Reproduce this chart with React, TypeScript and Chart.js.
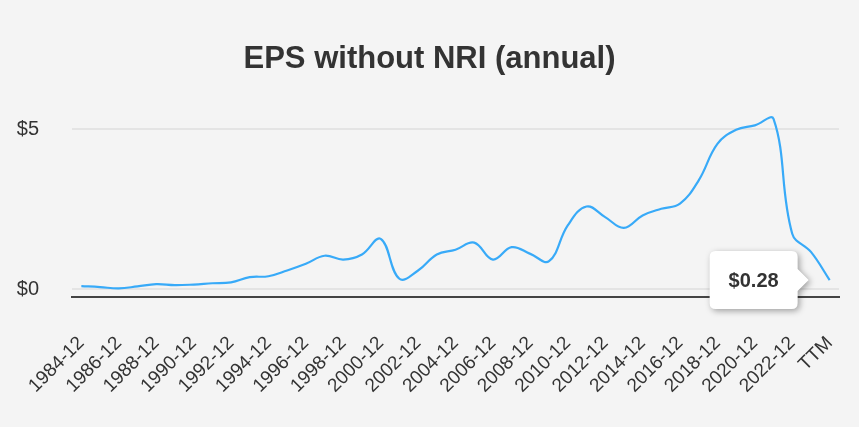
import React, { useEffect, useRef } from "react";
import { Chart, registerables } from "chart.js";

Chart.register(...registerables);

const categories: string[] = [
  "1984-12", "1985-12", "1986-12", "1987-12", "1988-12", "1989-12", "1990-12", "1991-12",
  "1992-12", "1993-12", "1994-12", "1995-12", "1996-12", "1997-12", "1998-12", "1999-12",
  "2000-12", "2001-12", "2002-12", "2003-12", "2004-12", "2005-12", "2006-12", "2007-12",
  "2008-12", "2009-12", "2010-12", "2011-12", "2012-12", "2013-12", "2014-12", "2015-12",
  "2016-12", "2017-12", "2018-12", "2019-12", "2020-12", "2021-12", "2022-12", "2023-12",
  "TTM",
];

const epsValues: number[] = [
  0.09, 0.06, 0.02, 0.08, 0.15, 0.12, 0.14, 0.18,
  0.21, 0.37, 0.4, 0.58, 0.79, 1.04, 0.92, 1.08,
  1.57, 0.32, 0.58, 1.08, 1.23, 1.45, 0.92, 1.31,
  1.1, 0.87, 1.99, 2.58, 2.25, 1.91, 2.3, 2.51,
  2.67, 3.4, 4.54, 4.98, 5.12, 5.32, 1.73, 1.16,
  0.28,
];

const yTickValues: number[] = [0, 5];
const lastValueLabel = "$0.28";
const titleText = "EPS without NRI (annual)";

const FONT = "'Liberation Sans', Arial, Helvetica, sans-serif";

const calloutPlugin = {
  id: "callout",
  afterDatasetsDraw(chart: any) {
    const meta = chart.getDatasetMeta(0);
    const pt = meta.data[meta.data.length - 1];
    if (!pt) return;
    const ctx = chart.ctx as CanvasRenderingContext2D;
    const w = 88, h = 58, gap = 32, arrow = 11, r = 6;
    const right = pt.x - gap;
    const left = right - w;
    const top = pt.y - h / 2;
    const bottom = top + h;
    ctx.save();
    ctx.shadowColor = "rgba(0,0,0,0.35)";
    ctx.shadowBlur = 6;
    ctx.shadowOffsetX = 2;
    ctx.shadowOffsetY = 2;
    ctx.fillStyle = "#ffffff";
    ctx.beginPath();
    ctx.moveTo(left + r, top);
    ctx.lineTo(right - r, top);
    ctx.quadraticCurveTo(right, top, right, top + r);
    ctx.lineTo(right, pt.y - arrow);
    ctx.lineTo(right + arrow, pt.y);
    ctx.lineTo(right, pt.y + arrow);
    ctx.lineTo(right, bottom - r);
    ctx.quadraticCurveTo(right, bottom, right - r, bottom);
    ctx.lineTo(left + r, bottom);
    ctx.quadraticCurveTo(left, bottom, left, bottom - r);
    ctx.lineTo(left, top + r);
    ctx.quadraticCurveTo(left, top, left + r, top);
    ctx.closePath();
    ctx.fill();
    ctx.restore();
    ctx.save();
    ctx.fillStyle = "#333333";
    ctx.font = `bold 20px ${FONT}`;
    ctx.textAlign = "center";
    ctx.textBaseline = "middle";
    ctx.fillText(lastValueLabel, (left + right) / 2, pt.y + 1);
    ctx.restore();
  },
};

export default function App() {
  const ref = useRef<HTMLCanvasElement>(null);
  useEffect(() => {
    document.body.style.margin = "0";
    document.body.style.background = "#f4f4f4";
    const lastIdx = categories.length - 1;
    const chart = new Chart(ref.current!, {
      type: "line",
      data: {
        labels: categories,
        datasets: [
          {
            data: epsValues,
            borderColor: "#38aaf8",
            borderWidth: 2.2,
            pointRadius: 0,
            tension: 0.4,
            fill: false,
          },
        ],
      },
      options: {
        responsive: false,
        animation: false,
        layout: { padding: { left: 0, right: 0, top: 0, bottom: 0 } },
        plugins: {
          legend: { display: false },
          tooltip: { enabled: false },
          title: {
            display: true,
            text: titleText,
            color: "#333333",
            font: { family: FONT, size: 31, weight: "bold", lineHeight: 1.2 },
            padding: { top: 41, bottom: 35 },
          },
        },
        scales: {
          x: {
            offset: true,
            grid: { display: false, drawTicks: false },
            border: { display: true, color: "#444444", width: 2 },
            afterFit: (scale: any) => {
              scale.height = 130;
              scale.paddingLeft = 0;
              scale.paddingRight = 20;
            },
            ticks: {
              autoSkip: false,
              maxRotation: 45,
              minRotation: 45,
              padding: 35,
              color: "#333333",
              font: { family: FONT, size: 19 },
              callback: (_v: any, idx: number) =>
                idx % 2 === 0 || idx === lastIdx ? categories[idx] : "",
            },
          },
          y: {
            min: -0.25,
            max: 5.5,
            afterFit: (scale: any) => {
              scale.width = 72;
            },
            afterBuildTicks: (scale: any) => {
              scale.ticks = yTickValues.map((v) => ({ value: v }));
            },
            grid: { color: "#e4e4e4", lineWidth: 2, drawTicks: false },
            border: { display: false },
            ticks: {
              padding: 33,
              color: "#333333",
              font: { family: FONT, size: 20 },
              callback: (v: any) => "$" + v,
            },
          },
        },
      },
      plugins: [calloutPlugin],
    });
    return () => chart.destroy();
  }, []);
  return (
    <div style={{ width: 859, height: 427, background: "#f4f4f4" }}>
      <canvas ref={ref} width={859} height={427} style={{ display: "block" }} />
    </div>
  );
}
